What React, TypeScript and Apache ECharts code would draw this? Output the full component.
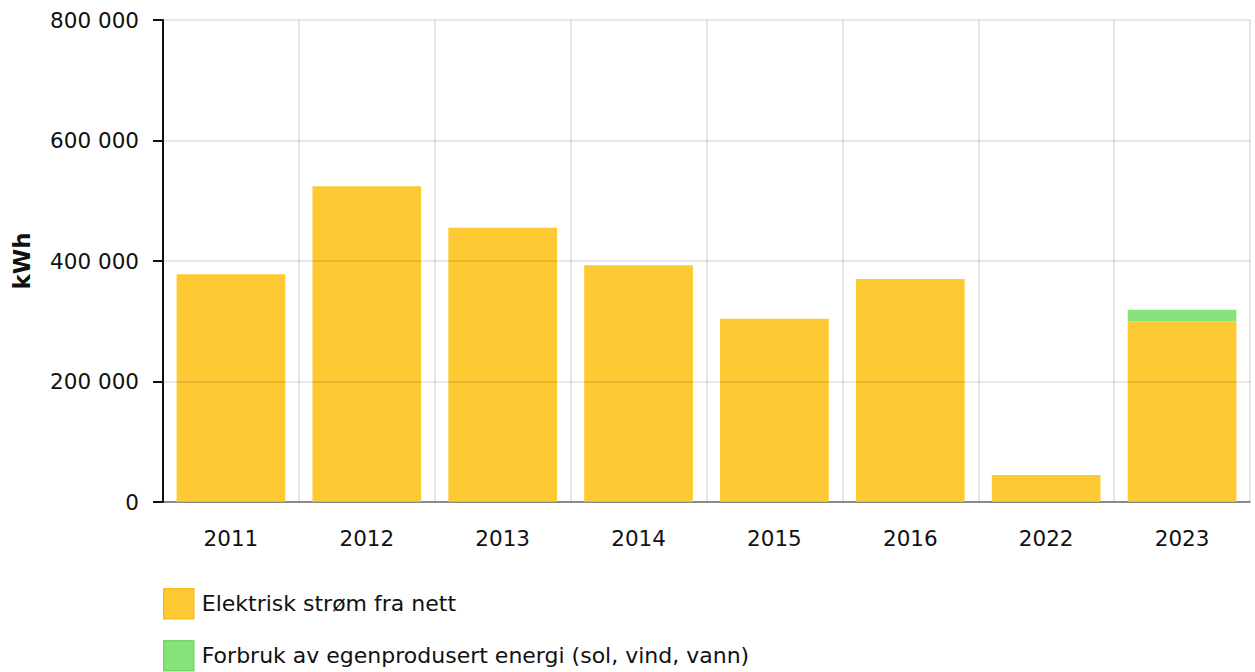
import React, { useEffect, useRef } from "react";
import * as echarts from "echarts";

const categories = ["2011", "2012", "2013", "2014", "2015", "2016", "2022", "2023"];
const gridPower = [378000, 524000, 455000, 393000, 304000, 370000, 45000, 300000];
const selfProduced = [0, 0, 0, 0, 0, 0, 0, 19000];
const seriesNames = ["Elektrisk strøm fra nett", "Forbruk av egenprodusert energi (sol, vind, vann)"];
const yAxisName = "kWh";

const FONT = "'DejaVu Sans', Verdana, sans-serif";

export default function App() {
  const ref = useRef<HTMLDivElement>(null);
  useEffect(() => {
    if (!ref.current) return;
    const chart = echarts.init(ref.current, null, { renderer: "svg" });
    const legendBase = {
      orient: "vertical",
      left: 163,
      padding: 0,
      itemWidth: 30,
      itemHeight: 30,
      icon: "rect",
      textStyle: { fontSize: 22, color: "#111", fontFamily: FONT, padding: [0, 0, 0, 3] },
    };
    chart.setOption({
      animation: false,
      textStyle: { fontFamily: FONT },
      grid: { left: 163, right: 5, top: 20, bottom: 170, containLabel: false },
      legend: [
        {
          ...legendBase,
          top: 588,
          data: [{ name: seriesNames[0], itemStyle: { borderColor: "#F7BE1C", borderWidth: 1.5 } }],
        },
        {
          ...legendBase,
          top: 640,
          data: [{ name: seriesNames[1], itemStyle: { borderColor: "#6CD962", borderWidth: 1.5 } }],
        },
      ],
      xAxis: {
        type: "category",
        data: categories,
        axisLine: { lineStyle: { color: "#777", width: 1.5 } },
        axisTick: { alignWithLabel: true, length: 10, lineStyle: { color: "#999", width: 2 } },
        axisLabel: { fontSize: 21.5, color: "#111", margin: 25, fontFamily: FONT },
        splitLine: { show: true, lineStyle: { color: "#dcdcdc", width: 1.5 } },
      },
      yAxis: {
        type: "value",
        min: 0,
        max: 800000,
        interval: 200000,
        z: 3,
        name: yAxisName,
        nameLocation: "middle",
        nameGap: 130,
        nameTextStyle: { fontSize: 23, fontWeight: "bold", color: "#111", fontFamily: FONT },
        axisLine: { show: true, lineStyle: { color: "#111", width: 2 } },
        axisTick: { show: true, length: 10, lineStyle: { color: "#111", width: 2 } },
        axisLabel: {
          fontSize: 21.5,
          color: "#111",
          margin: 24,
          fontFamily: FONT,
          formatter: (v: number) => String(v).replace(/\B(?=(\d{3})+(?!\d))/g, " "),
        },
        splitLine: { show: true, lineStyle: { color: "rgba(0,0,0,0.12)", width: 1.5 } },
      },
      series: [
        {
          name: seriesNames[0],
          type: "bar",
          stack: "total",
          data: gridPower,
          barCategoryGap: "20%",
          itemStyle: { color: "#FDCA33" },
        },
        {
          name: seriesNames[1],
          type: "bar",
          stack: "total",
          data: selfProduced,
          barCategoryGap: "20%",
          itemStyle: { color: "#86E27A" },
        },
      ],
    });
    return () => chart.dispose();
  }, []);
  return (
    <div
      ref={ref}
      style={{ position: "fixed", left: 0, top: 0, width: 1255, height: 672, background: "#fff" }}
    />
  );
}
